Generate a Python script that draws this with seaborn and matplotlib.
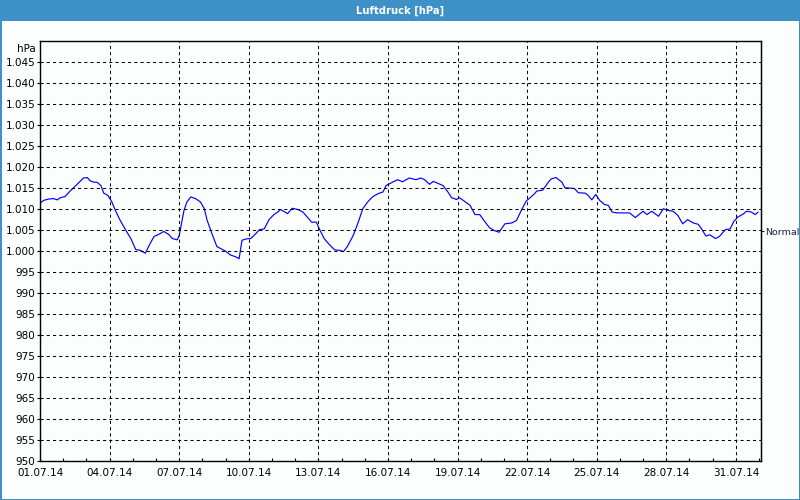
import matplotlib
matplotlib.use("Agg")
import matplotlib.pyplot as plt
import matplotlib.dates as mdates
import matplotlib.ticker as mticker
from matplotlib.patches import Rectangle
import pandas as pd
import seaborn as sns

# ---- data (hours since 01.07.2014 00:00, pressure in hPa) ----
hours = [0, 4, 9, 14, 18, 21, 26, 32, 38, 45, 49, 52, 56, 59, 63, 66, 70, 74, 78, 83,
         89, 94, 99, 104, 109, 113, 118, 123, 128, 133, 137, 142, 144, 149, 152, 156,
         161, 166, 170, 173, 178, 183, 187, 192, 197, 202, 206, 209, 213, 218, 223,
         227, 232, 237, 242, 246, 249, 255, 256, 261, 267, 272, 277, 281, 286, 289,
         294, 300, 305, 310, 314, 318, 324, 329, 334, 339, 344, 350, 355, 358, 363,
         370, 375, 382, 389, 394, 398, 403, 407, 412, 417, 422, 426, 431, 434, 439,
         445, 450, 455, 460, 465, 470, 475, 481, 488, 493, 498, 503, 508, 511, 514,
         520, 526, 529, 534, 540, 543, 548, 553, 557, 564, 567, 571, 575, 579, 584,
         588, 592, 597, 603, 610, 616, 624, 628, 633, 640, 645, 650, 655, 660, 665,
         670, 676, 681, 684, 689, 693, 699, 703, 709, 714, 718, 722, 728, 731, 736,
         740, 743]
pressure = [1011.3, 1012.0, 1012.3, 1012.4, 1012.1, 1012.6, 1012.9, 1014.4, 1015.7,
            1017.3, 1017.4, 1016.6, 1016.3, 1016.3, 1015.5, 1013.7, 1013.2, 1011.8,
            1009.6, 1007.2, 1004.8, 1002.9, 1000.3, 1000.1, 999.4, 1001.3, 1003.4,
            1003.9, 1004.6, 1003.9, 1002.9, 1002.6, 1003.6, 1009.6, 1011.6, 1012.8,
            1012.4, 1011.6, 1010.0, 1007.2, 1004.0, 1001.0, 1000.5, 999.9, 999.0,
            998.6, 998.1, 1002.5, 1002.8, 1002.9, 1004.0, 1005.0, 1005.2, 1007.4,
            1008.6, 1009.2, 1009.8, 1009.0, 1008.8, 1010.1, 1009.8, 1009.2, 1007.9,
            1006.8, 1006.8, 1005.2, 1002.9, 1001.3, 1000.2, 1000.1, 999.8, 1001.0,
            1003.6, 1006.6, 1010.0, 1011.6, 1012.8, 1013.6, 1014.0, 1015.5, 1016.1,
            1016.9, 1016.4, 1017.3, 1016.9, 1017.3, 1016.9, 1015.8, 1016.5, 1016.0,
            1015.5, 1014.0, 1012.6, 1012.2, 1012.6, 1011.8, 1010.8, 1008.6, 1008.6,
            1007.0, 1005.5, 1004.8, 1004.4, 1006.4, 1006.6, 1007.2, 1009.6, 1011.8,
            1012.8, 1013.4, 1014.2, 1014.4, 1016.3, 1017.1, 1017.4, 1016.3, 1015.0,
            1014.9, 1014.8, 1013.8, 1013.7, 1013.2, 1012.1, 1013.4, 1012.0, 1011.0,
            1010.8, 1009.2, 1009.0, 1009.0, 1009.0, 1007.9, 1009.4, 1008.6, 1009.4,
            1008.2, 1010.0, 1009.6, 1009.4, 1008.4, 1006.4, 1007.4, 1006.6, 1006.3,
            1005.4, 1003.5, 1003.8, 1002.9, 1003.4, 1005.0, 1005.2, 1007.0, 1008.0,
            1008.8, 1009.4, 1009.2, 1008.6, 1009.2]

y_ticks = list(range(950, 1050, 5))
x_tick_days = [1, 4, 7, 10, 13, 16, 19, 22, 25, 28, 31]
normal_value = 1004.6
title = "Luftdruck [hPa]"
unit_label = "hPa"

# ---- style ----
sns.set_style("ticks")
plt.rcParams["font.family"] = ["DejaVu Sans"]
bg = "#fcfefd"
bar_col = "#3d91c7"

fig = plt.figure(figsize=(8, 5), dpi=100, facecolor=bg)
ax = fig.add_axes([40 / 800, 39 / 500, 720.7 / 800, 420.5 / 500])
ax.set_facecolor(bg)

start = pd.Timestamp("2014-07-01 00:00")
df = pd.DataFrame({"time": start + pd.to_timedelta(hours, unit="h"), "hPa": pressure})
sns.lineplot(data=df, x="time", y="hPa", ax=ax, color="#0000ff", linewidth=0.85)

ax.set_xlim(start, start + pd.Timedelta(hours=745.7))
ax.set_ylim(950, 1050)
ax.set_xlabel("")
ax.set_ylabel("")

# y axis
ax.set_yticks(y_ticks)
ax.yaxis.set_major_formatter(mticker.FuncFormatter(
    lambda v, p: f"{v / 1000:.3f}" if v >= 1000 else f"{int(v)}"))
ax.tick_params(axis="y", direction="out", length=2.5, width=0.8, pad=1,
               labelsize=7.5, colors="black")

# x axis
ax.set_xticks([start + pd.Timedelta(days=d - 1) for d in x_tick_days])
ax.xaxis.set_minor_locator(mdates.DayLocator())
ax.xaxis.set_major_formatter(mdates.DateFormatter("%d.%m.%y"))
ax.tick_params(axis="x", which="both", direction="in", length=2.5, width=0.8,
               pad=5, labelsize=7.5, colors="black")

for s in ax.spines.values():
    s.set_color("black")
    s.set_linewidth(1.0)
    s.set_visible(True)

ax.grid(True, which="major", color="black", linestyle=(0, (3, 3)), linewidth=0.75)
ax.set_axisbelow(False)

ax.text(-0.006, 0.992, unit_label, transform=ax.transAxes, ha="right", va="top",
        fontsize=7.5, color="black")

# right "Normal" marker
sec = ax.secondary_yaxis("right")
sec.set_yticks([normal_value])
sec.set_yticklabels(["Normal"])
sec.tick_params(axis="y", direction="out", length=2.5, width=0.8, pad=1,
                labelsize=6.8, colors="#1c1c4c")
sec.spines["right"].set_color("black")

# title bar & border
fig.patches.append(Rectangle((0, 1 - 21 / 500), 1, 21 / 500, transform=fig.transFigure,
                             facecolor=bar_col, edgecolor="none", zorder=0))
fig.patches.append(Rectangle((0, 0), 1, 1, transform=fig.transFigure, fill=False,
                             edgecolor=bar_col, linewidth=2.2, zorder=5))
fig.text(0.5, 1 - 10.5 / 500, title, ha="center", va="center", color="white",
         fontsize=8, fontweight="bold", fontstretch="condensed")

fig.savefig("out.png", dpi=100, facecolor=bg)
